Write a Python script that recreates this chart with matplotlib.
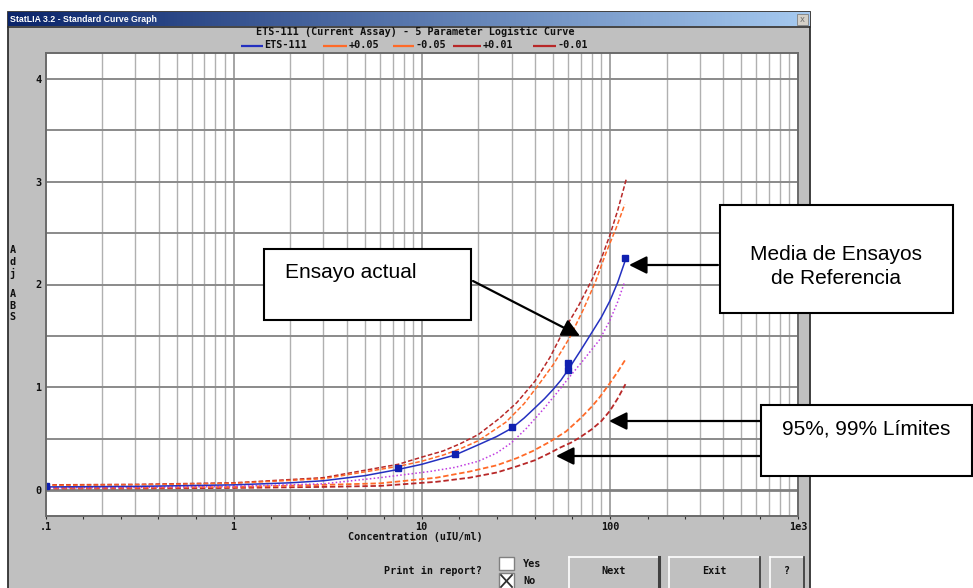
import matplotlib
matplotlib.use("Agg")
import matplotlib.pyplot as plt
import numpy as np
from matplotlib.patches import Rectangle
from matplotlib.ticker import FixedLocator, NullFormatter

# standards of the current assay (blue squares)
std_conc = [0.1, 7.5, 15, 30, 60, 60, 120]
std_abs = [0.04, 0.21, 0.35, 0.61, 1.17, 1.24, 2.26]

# ETS-111 fitted curve
fit_conc = [0.1, 0.3, 1, 2, 3, 5, 7.5, 10, 12.5, 15, 20, 25, 30, 35, 40, 45, 50, 55, 60,
            70, 80, 90, 100, 110, 120]
fit_abs = [0.03, 0.035, 0.05, 0.07, 0.09, 0.14, 0.20, 0.25, 0.30, 0.34, 0.44, 0.52, 0.60,
           0.70, 0.80, 0.89, 0.98, 1.07, 1.17, 1.36, 1.53, 1.68, 1.84, 2.02, 2.22]

# reference mean curve (dotted magenta)
ref_conc = [0.1, 0.3, 1, 3, 6, 11, 15, 20, 25, 30, 36, 44, 52, 61, 72, 88, 100, 110, 120]
ref_abs = [0.02, 0.025, 0.035, 0.06, 0.12, 0.18, 0.22, 0.28, 0.36, 0.46, 0.60, 0.78, 0.94,
           1.10, 1.26, 1.46, 1.65, 1.83, 2.03]

# limits
up01_conc = [0.1, 0.3, 1, 3, 7.5, 10, 13, 16, 20, 26, 32, 40, 48, 56, 68, 81, 90, 100, 110, 122]
up01_abs = [0.05, 0.055, 0.07, 0.12, 0.25, 0.32, 0.38, 0.45, 0.54, 0.70, 0.85, 1.06, 1.29,
            1.53, 1.79, 2.06, 2.25, 2.48, 2.72, 3.02]
up05_conc = [0.1, 0.3, 1, 3, 7.5, 10, 13, 16, 20, 28, 35, 42, 50, 61, 72, 84, 95, 108, 120]
up05_abs = [0.045, 0.05, 0.065, 0.11, 0.23, 0.28, 0.34, 0.40, 0.48, 0.66, 0.84, 1.03, 1.22,
            1.48, 1.75, 2.03, 2.30, 2.55, 2.78]
lo05_conc = [0.1, 0.3, 1, 3, 6, 12, 18, 25, 32, 39, 48, 58.5, 70, 80, 88, 100, 110, 121]
lo05_abs = [0.02, 0.022, 0.03, 0.05, 0.065, 0.12, 0.18, 0.24, 0.31, 0.38, 0.47, 0.57, 0.70,
            0.81, 0.90, 1.04, 1.15, 1.27]
lo01_conc = [0.1, 0.3, 1, 3, 6, 12, 18, 25, 32, 40, 48, 54, 62, 69, 80, 90, 100, 110, 121]
lo01_abs = [0.015, 0.015, 0.02, 0.03, 0.04, 0.08, 0.12, 0.17, 0.23, 0.29, 0.36, 0.41, 0.46,
            0.51, 0.59, 0.67, 0.77, 0.89, 1.03]

legend_names = ["ETS-111", "+0.05", "-0.05", "+0.01", "-0.01"]
x_ticks = [0.1, 1, 10, 100, 1000]
x_ticklabels = [".1", "1", "10", "100", "1e3"]
y_ticks = [0, 1, 2, 3, 4]

BLUE = "#2430c0"
ORANGE = "#ff6a28"
RED = "#b82828"
MAGENTA = "#c03ce0"
GRAY = "#c0c0c0"
MONO = dict(family="DejaVu Sans Mono", weight="bold", size=7.3, color="#101010")

W, H = 973, 588
fig = plt.figure(figsize=(W / 100, H / 100), dpi=100)

# ---- window chrome (pixel coordinates) ----
bg = fig.add_axes([0, 0, 1, 1], zorder=0)
bg.axis("off")

bg.add_patch(Rectangle((8, 12), 802, 580, facecolor=GRAY, edgecolor="#303030", lw=1.3, zorder=1))
grad = np.linspace(0, 1, 256).reshape(1, -1, 1)
c0 = np.array([0x0a, 0x24, 0x6a]) / 255
c1 = np.array([0xa6, 0xca, 0xf0]) / 255
bg.imshow(c0 + (c1 - c0) * grad, extent=(8, 810, 26, 12), aspect="auto", zorder=2)
bg.set_xlim(0, W)
bg.set_ylim(H, 0)
bg.plot([8, 810], [26.5, 26.5], color="#303030", lw=1.2, zorder=3)
bg.text(10, 19.5, "StatLIA 3.2 - Standard Curve Graph", color="white", fontsize=6.3,
        fontweight="bold", family="Liberation Sans", va="center", ha="left", zorder=4)
bg.add_patch(Rectangle((797, 13.5), 11, 11, facecolor="#d4d0c8", edgecolor="#808080", lw=0.6, zorder=4))
bg.text(802.5, 19, "x", fontsize=6, color="#707070", ha="center", va="center", zorder=5)

bg.text(415, 32, "ETS-111 (Current Assay) - 5 Parameter Logistic Curve",
        ha="center", va="center", zorder=4, **MONO)

# legend row
leg_items = [(241, 263, BLUE), (323, 347, ORANGE), (393, 414, ORANGE),
             (453, 481, RED), (533, 556, RED)]
for (x0, x1, col), name in zip(leg_items, legend_names):
    bg.plot([x0, x1], [46, 46], color=col, lw=1.6, solid_capstyle="butt", zorder=4)
    bg.text(x1 + 1.5, 44.5, name, ha="left", va="center", zorder=4, **MONO)

# y label as stacked letters
for ch, yy in zip("AdjABS", [250, 262, 273, 294, 306, 317]):
    bg.text(12.5, yy, ch, ha="center", va="center", zorder=4, **MONO)

bg.text(415, 537, "Concentration (uIU/ml)", ha="center", va="center", zorder=4, **MONO)

# bottom controls
bg.text(482, 571, "Print in report?", ha="right", va="center", zorder=4, **MONO)
bg.add_patch(Rectangle((499, 557), 15, 13, facecolor="white", edgecolor="#808080", lw=1.0, zorder=4))
bg.add_patch(Rectangle((499, 573), 15, 16, facecolor="white", edgecolor="#808080", lw=1.0, zorder=4))
bg.plot([501, 512], [575, 587], color="#303030", lw=1.3, zorder=5)
bg.plot([501, 512], [587, 575], color="#303030", lw=1.3, zorder=5)
bg.text(523, 564, "Yes", ha="left", va="center", zorder=4, **MONO)
bg.text(523, 580.5, "No", ha="left", va="center", zorder=4, **MONO)


def button(x0, x1, label, heavy=False):
    y0, y1 = 557, 592
    bg.add_patch(Rectangle((x0, y0), x1 - x0, y1 - y0, facecolor=GRAY, edgecolor="none", zorder=4))
    bg.plot([x0, x1], [y0, y0], color="white", lw=1.2, zorder=5)
    bg.plot([x0, x0], [y0, y1], color="white", lw=1.2, zorder=5)
    bg.plot([x1, x1], [y0, y1], color="#404040", lw=2.2 if heavy else 1.3, zorder=5)
    bg.text((x0 + x1) / 2, 571.5, label, ha="center", va="center", zorder=5, **MONO)


button(569, 659, "Next", heavy=True)
button(669, 760, "Exit")
button(770, 804, "?")

# ---- plot area ----
left, right, top, bottom = 45.5, 798, 53, 516
ax = fig.add_axes([left / W, 1 - bottom / H, (right - left) / W, (bottom - top) / H], zorder=1)
ax.set_facecolor("white")
ax.set_xscale("log")
ax.set_xlim(0.1, 1000)
ax.set_ylim((490 - bottom) / 102.75, (490 - top) / 102.75)

for d in [0.1, 1, 10, 100]:
    for m in range(2, 10):
        ax.axvline(d * m, color="#b0b0b0", lw=1.0, zorder=0)
for v in [1, 10, 100]:
    ax.axvline(v, color="#8c8c8c", lw=1.1, zorder=0)
for yv in np.arange(0.5, 4.01, 0.5):
    ax.axhline(yv, color="#8a8a8a", lw=1.4, zorder=0)
ax.axhline(0, color="#808080", lw=2.0, zorder=0)

ax.plot(lo01_conc, lo01_abs, color=RED, lw=1.3, ls=(0, (3, 1.5)))
ax.plot(lo05_conc, lo05_abs, color=ORANGE, lw=1.3, ls=(0, (3, 1.5)))
ax.plot(up01_conc, up01_abs, color=RED, lw=1.1, ls=(0, (3, 1.5)))
ax.plot(up05_conc, up05_abs, color=ORANGE, lw=1.1, ls=(0, (3, 1.5)))
ax.plot(ref_conc, ref_abs, color=MAGENTA, lw=1.1, ls=(0, (1, 1.5)))
ax.plot(fit_conc, fit_abs, color=BLUE, lw=1.1)
ax.plot(std_conc, std_abs, ls="none", marker="s", ms=4.2, color="#1020b0")

ax.xaxis.set_major_locator(FixedLocator(x_ticks))
ax.xaxis.set_minor_locator(FixedLocator([10 ** (k / 5) for k in range(-5, 15)]))
ax.xaxis.set_minor_formatter(NullFormatter())
ax.set_xticklabels(x_ticklabels, **MONO)
ax.set_yticks(y_ticks)
ax.set_yticklabels([str(v) for v in y_ticks], **MONO)
ax.tick_params(axis="x", which="both", length=2.5, width=0.8, color="#303030", pad=1.5)
ax.tick_params(axis="y", length=0, pad=3)
for s in ax.spines.values():
    s.set_color("#6a6a6a")
    s.set_linewidth(1.4)

# ---- annotation overlay ----
ov = fig.add_axes([0, 0, 1, 1], zorder=2)
ov.set_xlim(0, W)
ov.set_ylim(H, 0)
ov.axis("off")
ov.patch.set_alpha(0)

ARIAL = dict(family="Liberation Sans", size=15, color="black")
ov.add_patch(Rectangle((264, 249), 207, 71, facecolor="white", edgecolor="black", lw=1.5))
ov.text(285, 272, "Ensayo actual", ha="left", va="center", **ARIAL)
ov.add_patch(Rectangle((720, 205), 233, 108, facecolor="white", edgecolor="black", lw=1.5))
ov.text(836, 254, "Media de Ensayos", ha="center", va="center", **ARIAL)
ov.text(836, 278, "de Referencia", ha="center", va="center", **ARIAL)
ov.add_patch(Rectangle((760.5, 405), 211.5, 71, facecolor="white", edgecolor="black", lw=1.5))
ov.text(866, 429, "95%, 99% Límites", ha="center", va="center", **ARIAL)

arrow = dict(arrowstyle="-|>,head_length=0.6,head_width=0.3", lw=1.6, color="black",
             mutation_scale=18, shrinkA=0, shrinkB=0)
ov.annotate("", xy=(580, 336), xytext=(473, 281), arrowprops=arrow)
ov.annotate("", xy=(629, 265), xytext=(718, 265), arrowprops=arrow)
ov.annotate("", xy=(609, 421), xytext=(760, 421), arrowprops=arrow)
ov.annotate("", xy=(556, 456), xytext=(760, 456), arrowprops=arrow)

fig.savefig("out.png", dpi=100)
